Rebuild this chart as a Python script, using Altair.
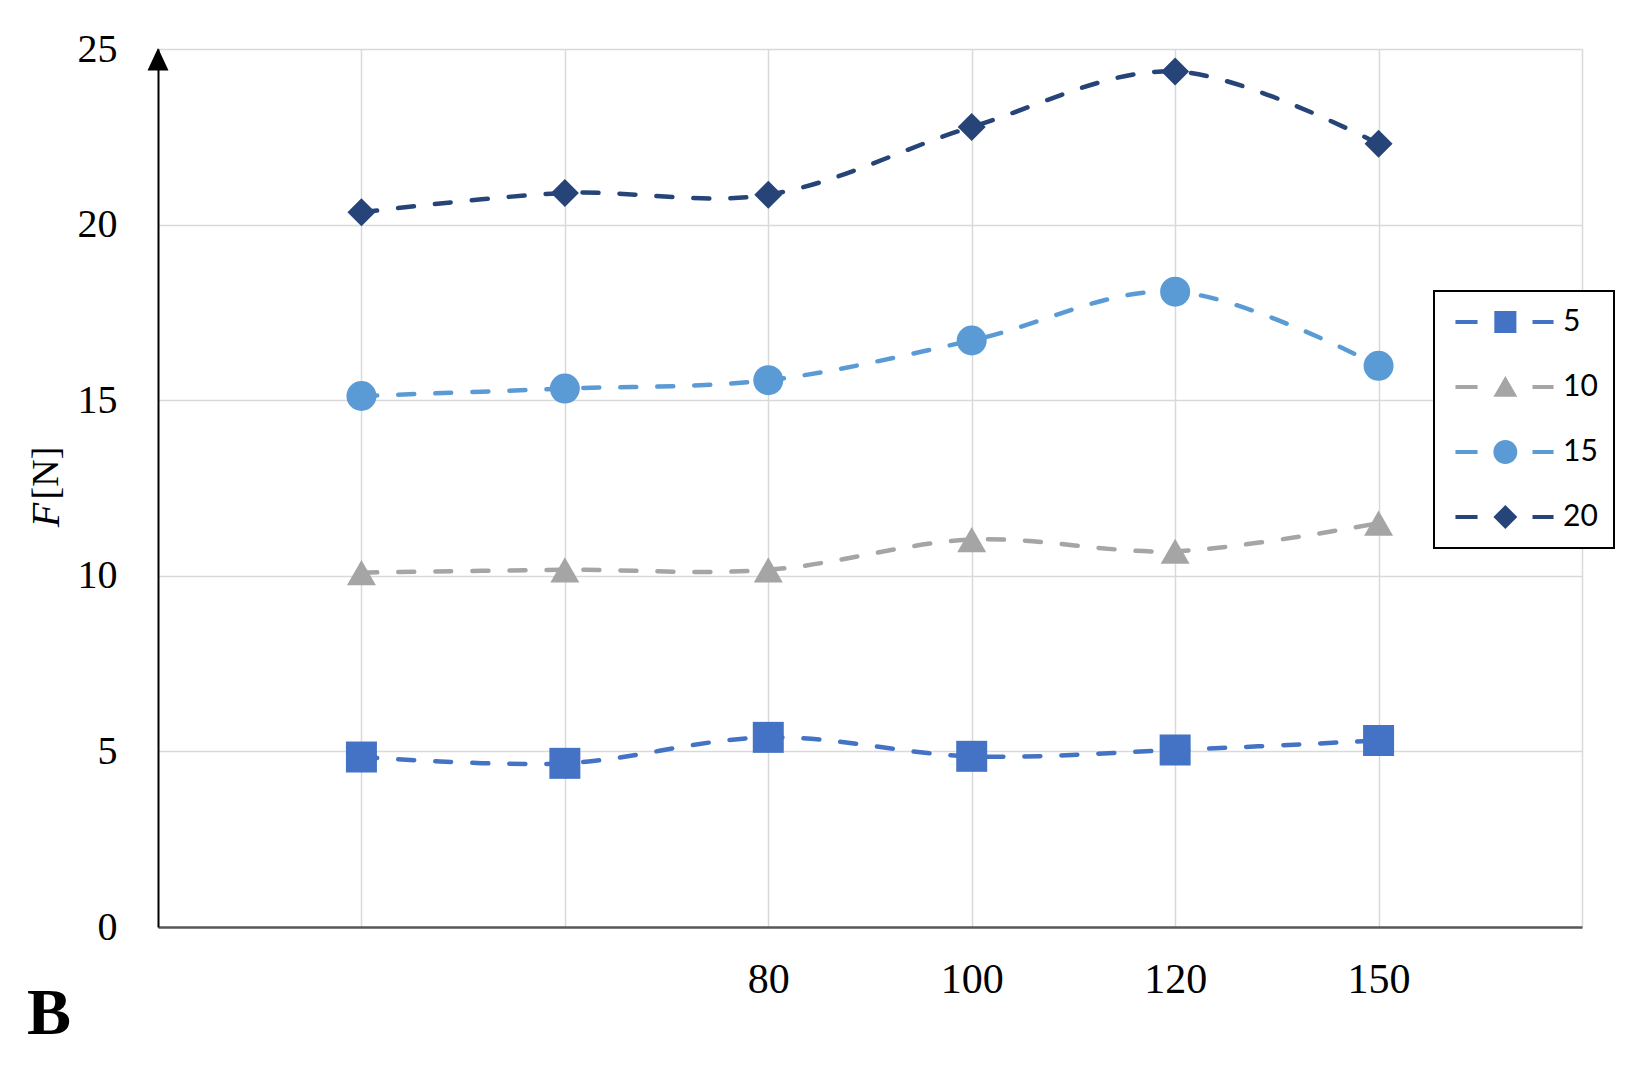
import json
import altair as alt
import pandas as pd

# ---- data ----
x_labels = ["", "", "80", "100", "120", "150"]
series_names = ["5", "10", "15", "20"]
f_5 = [4.84, 4.66, 5.40, 4.86, 5.04, 5.31]
f_10 = [10.09, 10.17, 10.17, 11.03, 10.70, 11.50]
f_15 = [15.12, 15.33, 15.57, 16.70, 18.09, 15.98]
f_20 = [20.35, 20.90, 20.85, 22.78, 24.36, 22.30]
y_ticks = [0, 5, 10, 15, 20, 25]

colors = ["#4472C4", "#A5A5A5", "#5B9BD5", "#264478"]
marker_shapes = ["square", "triangle-up", "circle", "diamond"]
marker_sizes = [961, 841, 900, 784]

rows = []
for name, vals in zip(series_names, [f_5, f_10, f_15, f_20]):
    for i, v in enumerate(vals):
        rows.append({"pos": i + 1, "F": v, "series": name})
df = pd.DataFrame(rows)

tick_text = [""] + x_labels + [""]
label_expr = json.dumps(tick_text) + "[datum.value]"

x_enc = alt.X(
    "pos:Q",
    scale=alt.Scale(domain=[0, len(x_labels) + 1], nice=False, zero=False),
    axis=alt.Axis(
        values=list(range(1, len(x_labels) + 2)),
        labelExpr=label_expr,
        title=None,
        ticks=False,
        grid=True,
        gridColor="#d9d9d9",
        gridWidth=1.5,
        domainColor="#595959",
        domainWidth=2.5,
        labelFont="Liberation Serif",
        labelFontSize=42,
        labelColor="#000000",
        labelPadding=32,
    ),
)
y_enc = alt.Y(
    "F:Q",
    scale=alt.Scale(domain=[0, 25], nice=False),
    axis=alt.Axis(
        values=y_ticks,
        title=None,
        ticks=False,
        grid=True,
        gridColor="#d9d9d9",
        gridWidth=1.5,
        domainColor="#000000",
        domainWidth=2,
        labelFont="Liberation Serif",
        labelFontSize=40,
        labelColor="#000000",
        labelPadding=41,
    ),
)
color_scale = alt.Scale(domain=series_names, range=colors)

base = alt.Chart(df)

series_layers = []
for name, col, shp, sz in zip(series_names, colors, marker_shapes, marker_sizes):
    sub = base.transform_filter(alt.datum.series == name)
    series_layers.append(
        sub.mark_line(
            interpolate="catmull-rom", strokeDash=[16, 21], strokeCap="round",
            strokeWidth=4.5, color=col,
        ).encode(x=x_enc, y=y_enc)
    )
    series_layers.append(
        sub.mark_point(filled=True, shape=shp, size=sz, opacity=1, strokeWidth=0, color=col)
        .encode(x=x_enc, y=y_enc)
    )

# legend symbols: dash - marker - dash
dl = "M-0.83,-0.17H1.09V0.17H-0.83Z"
dr = "M5.87,-0.17H7.70V0.17H5.87Z"
legend_markers = [
    "M2.55,-0.96H4.47V0.96H2.55Z",
    "M3.51,-0.95L4.55,0.85L2.47,0.85Z",
    "M2.47,0A1.04,1.04 0 1,0 4.55,0A1.04,1.04 0 1,0 2.47,0Z",
    "M2.47,0L3.51,-1.04L4.55,0L3.51,1.04Z",
]
legend_paths = [dl + m + dr for m in legend_markers]

def make_legend():
    return alt.Legend(
        orient="none",
        legendX=1276,
        legendY=242,
        title=None,
        padding=16,
        rowPadding=35,
        strokeColor="#000000",
        fillColor="#ffffff",
        symbolSize=529,
        symbolStrokeWidth=0,
        symbolOpacity=1,
        labelOffset=83,
        labelFont="Lato",
        labelFontSize=30,
        labelColor="#000000",
    )

legend_layer = base.mark_point(filled=True, opacity=0, size=529).encode(
    x=x_enc,
    y=y_enc,
    color=alt.Color("series:N", scale=color_scale, legend=make_legend()),
    shape=alt.Shape(
        "series:N", scale=alt.Scale(domain=series_names, range=legend_paths), legend=make_legend()
    ),
)

# decorations: axis arrow, axis title, panel letter
arrow = alt.Chart(pd.DataFrame({"a": [0]})).mark_point(
    shape="M0,-1.15L-1,1L1,1Z", filled=True, size=441, opacity=1, color="#000000", strokeWidth=0
).encode(x=alt.value(0), y=alt.value(11))

title_f = alt.Chart(pd.DataFrame({"t": ["F"]})).mark_text(
    font="Liberation Serif", fontStyle="italic", fontSize=40, angle=270, color="#000000",
    align="center", baseline="middle",
).encode(text="t:N", x=alt.value(-111), y=alt.value(466))

title_n = alt.Chart(pd.DataFrame({"t": ["[N]"]})).mark_text(
    font="Liberation Serif", fontSize=38, angle=270, color="#000000",
    align="center", baseline="middle",
).encode(text="t:N", x=alt.value(-111), y=alt.value(424))

panel = alt.Chart(pd.DataFrame({"t": ["B"]})).mark_text(
    font="Liberation Serif", fontWeight="bold", fontSize=66, color="#000000",
    align="center", baseline="middle",
).encode(text="t:N", x=alt.value(-109), y=alt.value(965))

chart = (
    alt.layer(legend_layer, *series_layers, arrow, title_f, title_n, panel)
    .properties(
        width=1424,
        height=878,
        autosize=alt.AutoSizeParams(type="none"),
        padding={"left": 150, "top": 41, "right": 40, "bottom": 130},
        background="#ffffff",
    )
    .configure_view(stroke=None)
    .configure_legend(strokeWidth=2)
)

chart.save("out.html", embed_options={"renderer": "svg", "actions": False})
